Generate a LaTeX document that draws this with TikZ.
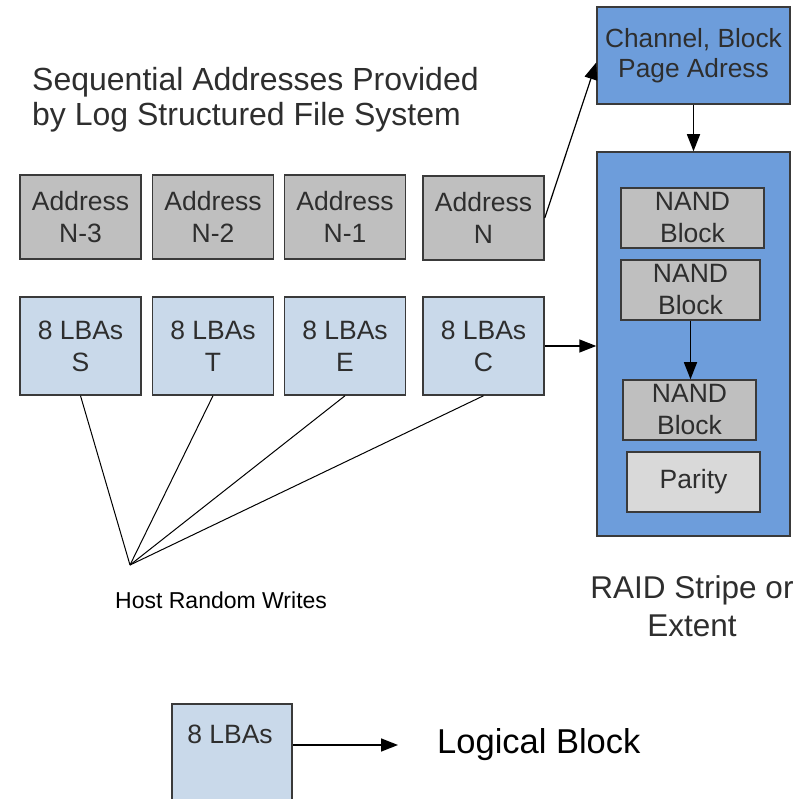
\documentclass[tikz,border=0pt]{standalone}
\usepackage{fontspec}
\setmainfont{Liberation Sans}
\usetikzlibrary{arrows.meta,calc}

\definecolor{inkgray}{HTML}{2E2E2E}
\definecolor{edgegray}{HTML}{3A3A3A}
\definecolor{addrfill}{HTML}{BFBFBF}
\definecolor{lbafill}{HTML}{C9D9EA}
\definecolor{raidblue}{HTML}{6D9DDB}
\definecolor{parityfill}{HTML}{D9D9D9}

\begin{document}
\begin{tikzpicture}[x=1pt,y=-1pt,
  box/.style={draw=edgegray, line width=1.5pt, text=inkgray, inner sep=0pt,
    align=center, font=\fontsize{26.5}{32}\selectfont},
  addrbox/.style={box, fill=addrfill, minimum width=121pt, minimum height=84pt},
  lbabox/.style={box, fill=lbafill, minimum width=121pt, minimum height=98pt},
  nandbox/.style={box, fill=addrfill, minimum height=60pt},
  bluebox/.style={box, fill=raidblue, minimum width=193pt},
  tip/.style={-{Triangle[length=17pt,width=13pt]}, line width=1.5pt, draw=black},
  fan/.style={line width=1pt, draw=black}
]
\useasboundingbox (0,0) rectangle (806,799);

% heading over the address row
\node[anchor=north west, inner sep=0pt, align=left, text=inkgray,
      font=\fontsize{32}{35}\selectfont] (title) at (32,67)
  {Sequential Addresses Provided\\by Log Structured File System};

% sequential addresses
\node[addrbox] (a3) at (80.5,217) {Address\\N-3};
\node[addrbox] (a2) at (213,217)  {Address\\N-2};
\node[addrbox] (a1) at (345,217)  {Address\\N-1};
\node[addrbox] (aN) at (483.5,218) {Address\\N};

% logical blocks written by the host
\node[lbabox] (lS) at (80.5,346)  {8 LBAs\\S};
\node[lbabox] (lT) at (213,346)   {8 LBAs\\T};
\node[lbabox] (lE) at (345,346)   {8 LBAs\\E};
\node[lbabox] (lC) at (483.5,346) {8 LBAs\\C};

% physical location and RAID stripe
\node[bluebox, minimum height=97pt, font=\fontsize{26.3}{30}\selectfont]
  (chan) at (693.5,55.5) {Channel, Block\\Page Adress};
\node[bluebox, minimum height=384pt] (raid) at (693.5,344) {};
\node[nandbox, minimum width=143pt] (n1) at (692.5,218) {NAND\\Block};
\node[nandbox, minimum width=139pt] (n2) at (690.5,290) {NAND\\Block};
\node[nandbox, minimum width=133pt] (n3) at (689.5,410) {NAND\\Block};
\node[box, fill=parityfill, minimum width=133pt, minimum height=60pt]
  (par) at (693.5,482) {Parity};

\node[anchor=north, inner sep=0pt, align=center, text=inkgray,
      font=\fontsize{31.5}{38}\selectfont] (raidlbl) at (692,575)
  {RAID Stripe or\\Extent};

% host random writes fan-in
\coordinate (hw) at (130,565);
\draw[fan] (lS.south) -- (hw);
\draw[fan] (lT.south) -- (hw);
\draw[fan] (lE.south) -- (hw);
\draw[fan] (lC.south) -- (hw);
\node[anchor=base west, inner sep=0pt, text=black,
      font=\fontsize{23}{28}\selectfont] (hrw) at (115,608) {Host Random Writes};

% connectors
\draw[tip, line width=1.2pt] (aN.east) -- ($(chan.west)+(0,7)$);
\draw[tip] (chan.south) -- (raid.north);
\draw[tip] (lC.east) -- (lC.east -| raid.west);
\draw[tip] (n2.south) -- (n2.south |- n3.north);

% legend
\node[box, fill=lbafill, anchor=north, minimum width=120pt, minimum height=120pt]
  (leg) at (232,703) {};
\node[anchor=base, inner sep=0pt, text=inkgray, font=\fontsize{26.5}{30}\selectfont]
  (legtxt) at (230,743) {8 LBAs};
\coordinate (legtip) at (398,745);
\draw[tip] (leg.north east |- legtip) -- (legtip);
\node[anchor=base west, inner sep=0pt, text=black,
      font=\fontsize{34.5}{40}\selectfont] (logblk) at (437,753) {Logical Block};
\end{tikzpicture}
\end{document}
